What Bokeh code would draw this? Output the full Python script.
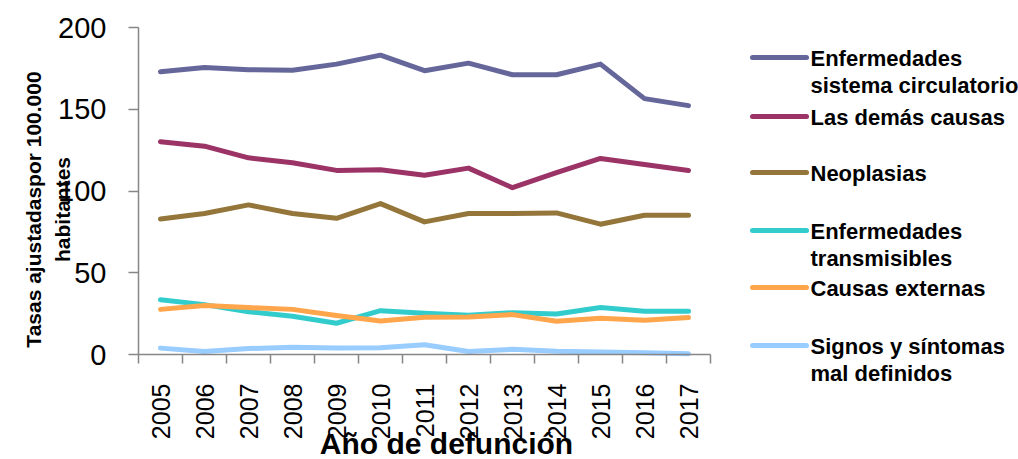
import math
from bokeh.plotting import figure
from bokeh.models import Range1d, FixedTicker, Label, Arrow
from bokeh.embed import file_html
from bokeh.resources import INLINE

years = list(range(2005, 2018))
circulatorio = [173, 175.6, 174.2, 173.8, 177.6, 183.1, 173.6, 178.2, 171.1, 171.1, 177.6, 156.5, 152.2]
demas = [130.1, 127.4, 120.3, 117.3, 112.6, 113.0, 109.6, 114.0, 102.0, 111.2, 119.9, 116.2, 112.6]
neoplasias = [82.9, 86.2, 91.5, 86.2, 83.3, 92.3, 81.1, 86.2, 86.2, 86.6, 79.7, 85.2, 85.2]
transmisibles = [33.5, 30.5, 26.2, 23.4, 19.1, 26.8, 25.2, 24.0, 25.6, 24.8, 28.7, 26.4, 26.4]
externas = [27.6, 29.9, 28.7, 27.6, 23.8, 20.5, 22.8, 22.9, 24.4, 20.3, 22.2, 20.9, 22.6]
signos = [3.9, 1.8, 3.6, 4.5, 3.9, 4.1, 6.0, 1.8, 3.2, 2.0, 1.6, 1.0, 0.5]
y_ticks = [0, 50, 100, 150, 200]

series = [
    (["Enfermedades", "sistema circulatorio"], circulatorio, "#65679B"),
    (["Las demás causas"], demas, "#9B3366"),
    (["Neoplasias"], neoplasias, "#94763A"),
    (["Enfermedades", "transmisibles"], transmisibles, "#33CCCC"),
    (["Causas externas"], externas, "#FFA64D"),
    (["Signos y síntomas", "mal definidos"], signos, "#99CCFF"),
]

W, H = 1018, 459
PL, PT, PR, PB = 138, 27, 710, 354  # plotting area in figure px
xa, xb = years[0] - 0.5, years[-1] + 0.5
ya, yb = 0, 200
sx = (PR - PL) / (xb - xa)
sy = (PB - PT) / (yb - ya)
x0, x1 = xa - PL / sx, xb + (W - PR) / sx
y0, y1 = ya - (H - PB) / sy, yb + PT / sy

def dx(px):  # figure px -> data x
    return xa + (px - PL) / sx

def dy(py):  # figure px -> data y
    return ya + (PB - py) / sy

p = figure(width=W, height=H, output_backend="svg", toolbar_location=None,
           x_range=Range1d(x0, x1), y_range=Range1d(y0, y1))
p.min_border = 0
p.min_border_left = 0
p.min_border_right = 0
p.min_border_top = 0
p.min_border_bottom = 0
p.outline_line_color = None
p.grid.grid_line_color = None
p.background_fill_color = "white"
p.border_fill_color = "white"

for _, vals, col in series:
    p.line(years, vals, line_color=col, line_width=5, line_join="round", line_cap="round")

FONT = "Liberation Sans"

ax = p.xaxis[0]
ax.fixed_location = ya
ax.bounds = (xa, xb)
ax.ticker = FixedTicker(ticks=years, minor_ticks=[y - 0.5 for y in years] + [years[-1] + 0.5])
ax.major_tick_out = 0
ax.major_tick_in = 0
ax.minor_tick_out = 9
ax.minor_tick_in = 0
ax.minor_tick_line_color = "#868686"
ax.minor_tick_line_width = 1.5
ax.axis_line_color = "#868686"
ax.axis_line_width = 1.5
ax.major_label_orientation = math.pi / 2
ax.major_label_standoff = 20
ax.major_label_text_font = FONT
ax.major_label_text_font_size = "25px"
ax.major_label_text_color = "black"

ay = p.yaxis[0]
ay.fixed_location = xa
ay.bounds = (ya, yb)
ay.ticker = FixedTicker(ticks=y_ticks)
ay.minor_tick_line_color = None
ay.major_tick_out = 10
ay.major_tick_in = 0
ay.major_tick_line_color = "#868686"
ay.major_tick_line_width = 1.5
ay.axis_line_color = "#868686"
ay.axis_line_width = 1.5
ay.major_label_standoff = 22
ay.major_label_text_font = FONT
ay.major_label_text_font_size = "29px"
ay.major_label_text_color = "black"

# axis titles
p.add_layout(Label(x=dx(33), y=dy(209), text="Tasas ajustadaspor 100.000", angle=math.pi / 2,
                   text_align="center", text_baseline="middle", text_font=FONT,
                   text_font_style="bold", text_font_size="21px", text_color="black"))
p.add_layout(Label(x=dx(62), y=dy(209), text="habitantes", angle=math.pi / 2,
                   text_align="center", text_baseline="middle", text_font=FONT,
                   text_font_style="bold", text_font_size="21px", text_color="black"))
p.add_layout(Label(x=dx(446), y=dy(443), text="Año de defunción",
                   text_align="center", text_baseline="middle", text_font=FONT,
                   text_font_style="bold", text_font_size="30px", text_color="black"))

# legend
leg_y = [57, 116, 172, 230, 287, 345]
for (lines, _, col), ly in zip(series, leg_y):
    p.add_layout(Arrow(x_start=dx(752), x_end=dx(806), y_start=dy(ly), y_end=dy(ly), end=None,
                       line_color=col, line_width=5, line_cap="round"))
    for i, t in enumerate(lines):
        p.add_layout(Label(x=dx(810), y=dy(ly + 1 + 27 * i), text=t, text_align="left",
                           text_baseline="middle", text_font=FONT,
                           text_font_style="bold", text_font_size="22px", text_color="black"))

open("out.html", "w").write(file_html(p, INLINE))
